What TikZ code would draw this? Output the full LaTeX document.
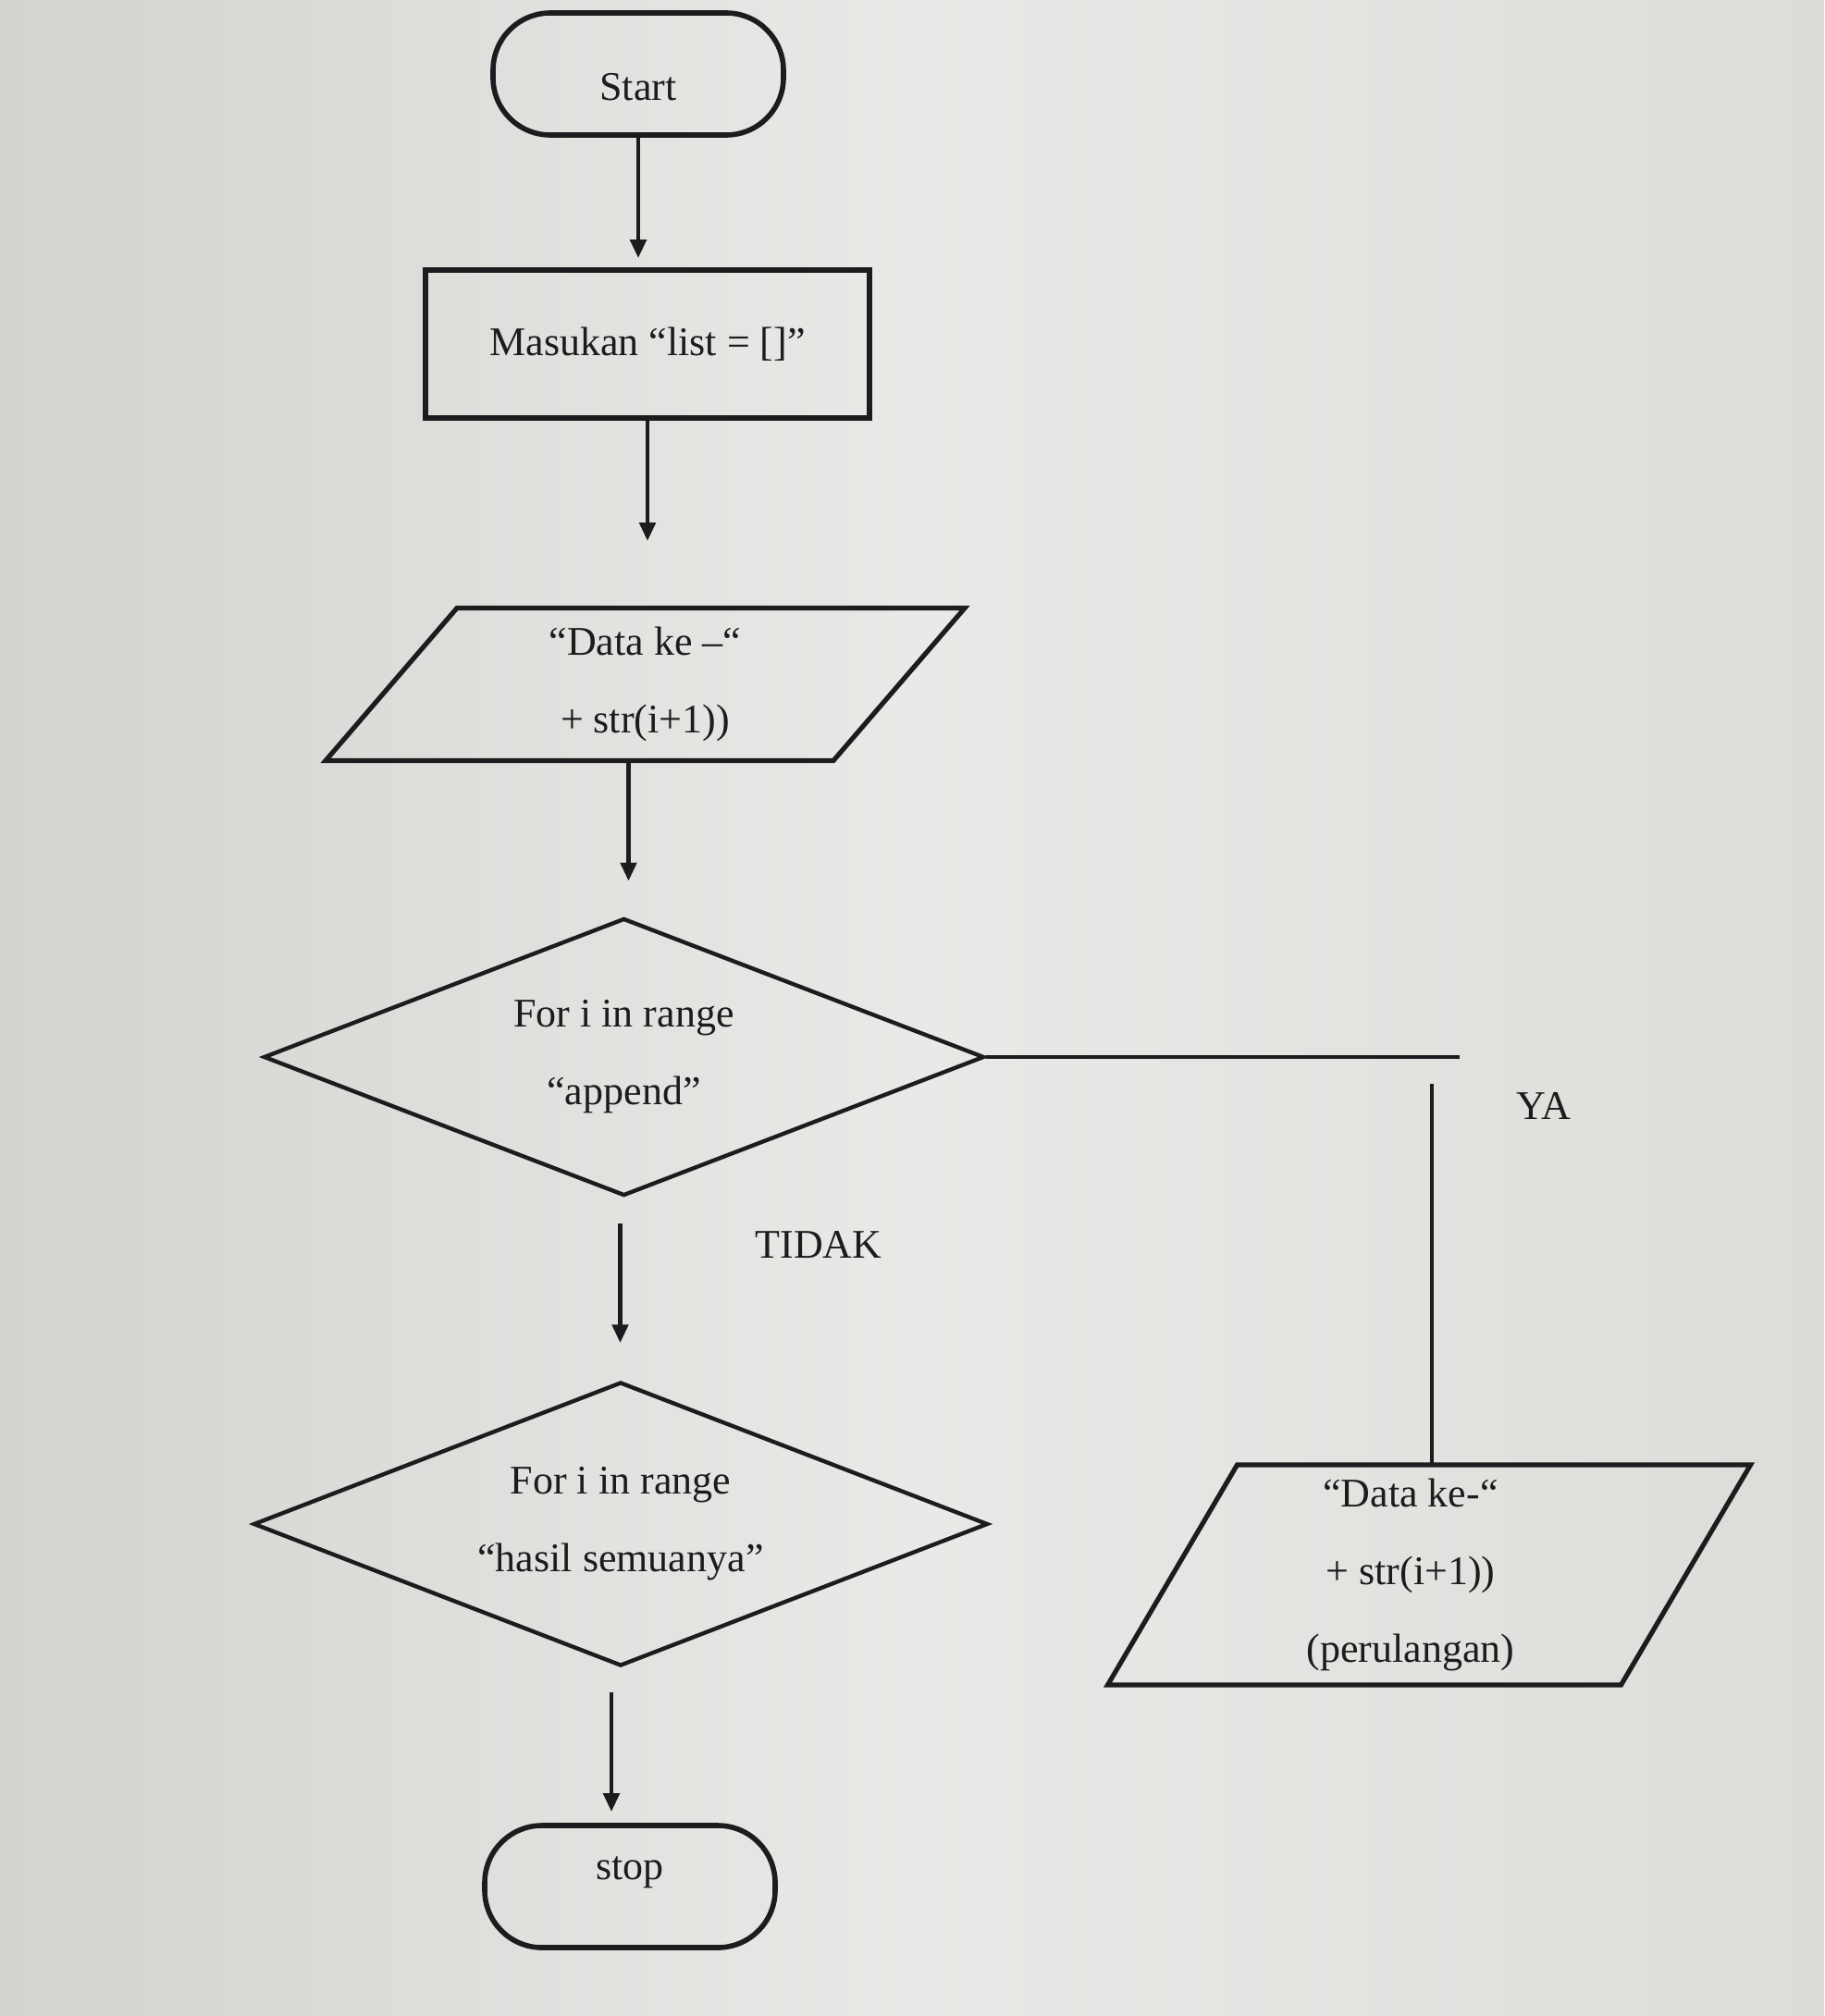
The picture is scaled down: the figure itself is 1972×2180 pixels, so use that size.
\documentclass[tikz,border=0pt]{standalone}
\usepackage{fontspec}
\setmainfont{Liberation Serif}
\usetikzlibrary{shapes.geometric,arrows.meta,calc}

\definecolor{ink}{HTML}{1C1C1E}
\definecolor{bgleft}{HTML}{D2D4D0}
\definecolor{bgmid}{HTML}{E9EAE7}
\definecolor{bgright}{HTML}{DCDDD9}

\begin{document}
\begin{tikzpicture}[x=0.5pt,y=-0.5pt,
  line/.style={draw=ink, line width=2.4pt},
  flow/.style={line, -{Triangle[length=10pt,width=8.5pt]}},
  txt/.style={font=\fontsize{22}{42}\selectfont, text=ink, align=center},
  term/.style={txt, draw=ink, line width=2.8pt, rectangle, rounded corners=31pt,
               minimum width=157pt, minimum height=66pt, inner sep=0pt},
  procbox/.style={txt, draw=ink, line width=2.8pt, rectangle,
                  minimum width=240pt, minimum height=80pt},
  decision/.style={txt, draw=ink, line width=2.2pt, diamond, aspect=2.6, inner sep=0pt},
  iobox/.style={txt, inner sep=0pt}
]
% page and background
\useasboundingbox (0,0) rectangle (1972,2180);
\shade[left color=bgleft, right color=bgright, middle color=bgmid]
  (0,0) rectangle (1972,2180);

% terminals and process box
\node[term, text height=28pt, text depth=0pt] (start) at (690,80) {Start};
\node[procbox] (init) at (700,372) {Masukan “list = []”};

% first input / output
\node[iobox, minimum width=275pt, minimum height=82.5pt] (p1) at (697.5,740)
  {“Data ke –“\\+ str(i+1))};
\draw[line, line width=2.6pt, line join=miter]
  ($(p1)+(-203.5,-82.5)$) -- ($(p1)+(345.5,-82.5)$) --
  ($(p1)+(203.5,82.5)$) -- ($(p1)+(-345.5,82.5)$) -- cycle;

% decisions
\node[decision, minimum width=389.5pt, minimum height=150pt] (d1) at (674.5,1143)
  {For i in range\\“append”};
\node[decision, minimum width=397pt, minimum height=153.5pt] (d2) at (671,1648)
  {For i in range\\“hasil semuanya”};

% loop body output
\node[iobox, minimum width=277pt, minimum height=119pt] (p2) at (1525,1703)
  {“Data ke-“\\+ str(i+1))\\(perulangan)};
\draw[line, line width=2.6pt, line join=miter]
  ($(p2)+(-187.5,-119)$) -- ($(p2)+(367.5,-119)$) --
  ($(p2)+(227.5,119)$) -- ($(p2)+(-327.5,119)$) -- cycle;

\node[term, text height=11pt, text depth=19pt] (stop) at (681,2040) {stop};

% branch labels
\node[txt] (ya) at (1669,1196) {YA};
\node[txt] (tidak) at (885,1346) {TIDAK};

% connectors
\draw[flow, shorten >=5pt] (start.south) -- (start.south |- init.north);
\draw[flow, shorten >=36pt] (init.south) -- (init.south |- p1.north);
\draw[flow, shorten >=19pt] ([xshift=-9pt]p1.south) -- ([xshift=-9pt]p1.south |- d1.north);
\draw[flow, shorten <=14pt, shorten >=20pt] ([xshift=-2pt]d1.south) -- ([xshift=-2pt]d1.south |- d2.north);
\draw[flow, shorten <=13pt, shorten >=6pt] ([xshift=-5pt]d2.south) -- ([xshift=-5pt]d2.south |- stop.north);

\coordinate (yaend) at (1578,1152);
\coordinate (yatop) at (1548,1172);
\draw[line] (d1.east) -- (d1.east -| yaend);
\draw[line] (yatop) -- (yatop |- p2.north);
\end{tikzpicture}
\end{document}
